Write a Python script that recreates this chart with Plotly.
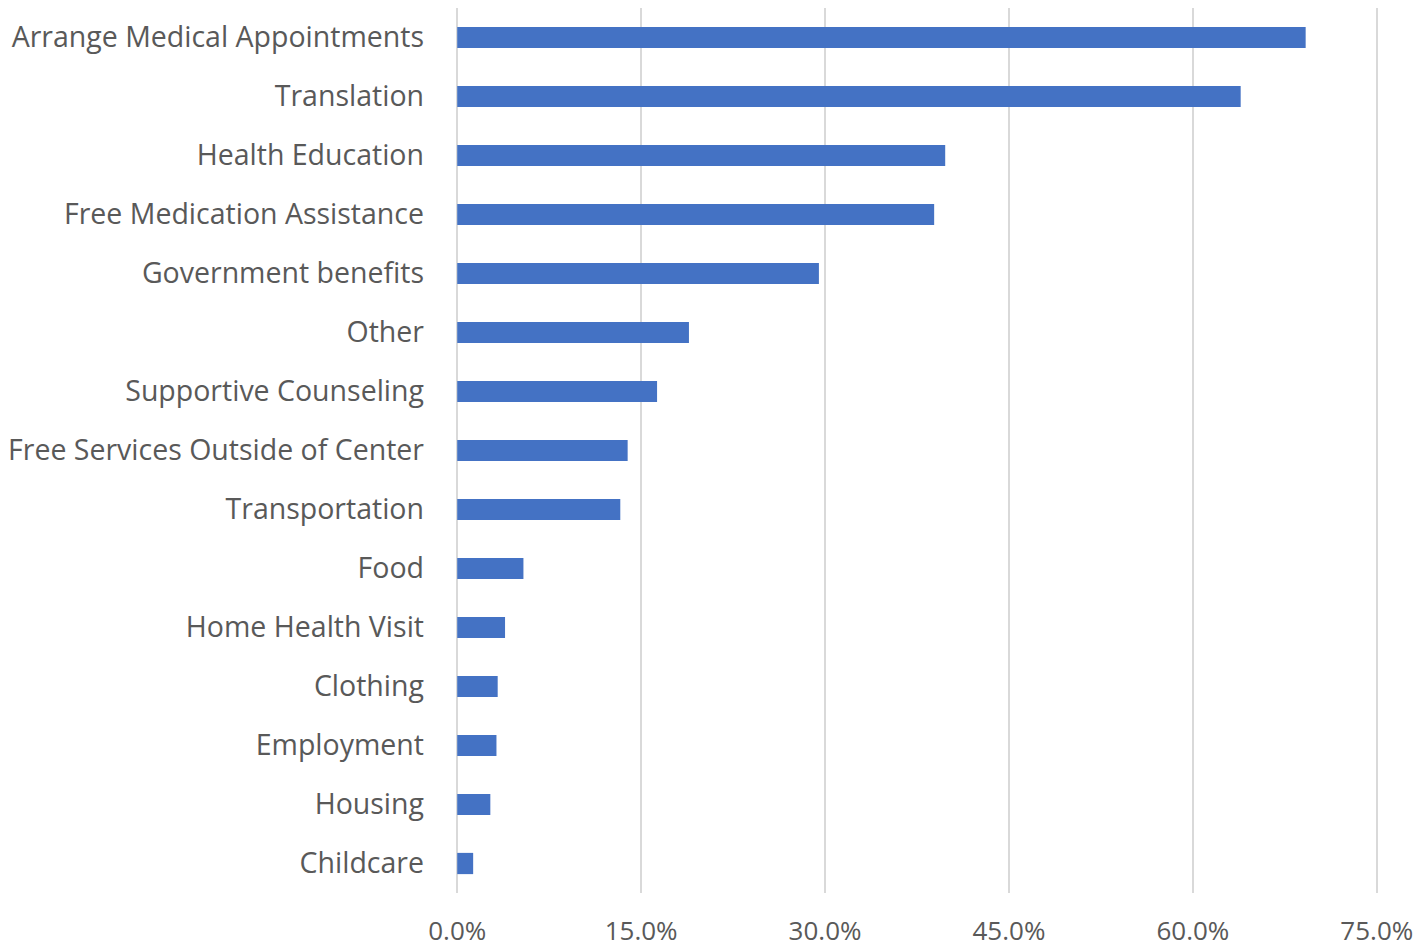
import plotly.graph_objects as go

categories = [
    "Arrange Medical Appointments",
    "Translation",
    "Health Education",
    "Free Medication Assistance",
    "Government benefits",
    "Other",
    "Supportive Counseling",
    "Free Services Outside of Center",
    "Transportation",
    "Food",
    "Home Health Visit",
    "Clothing",
    "Employment",
    "Housing",
    "Childcare",
]
values = [69.2, 63.9, 39.8, 38.9, 29.5, 18.9, 16.3, 13.9, 13.3, 5.4, 3.9, 3.3, 3.2, 2.7, 1.3]
x_ticks = [0, 15, 30, 45, 60, 75]

FONT = "Open Sans"
GREY = "#595959"

# The page body has an 8px margin, so the figure is sized to fit inside it.
fig = go.Figure(
    go.Bar(
        y=categories,
        x=values,
        orientation="h",
        marker=dict(color="#4472C4", line=dict(width=0)),
    )
)

fig.update_layout(
    width=1413,
    height=939,
    paper_bgcolor="white",
    plot_bgcolor="white",
    margin=dict(l=448, r=43, t=0, b=54, pad=0),
    bargap=0.64,
    showlegend=False,
    font=dict(family=FONT, color=GREY, size=28.5),
)

fig.update_yaxes(
    autorange="reversed",
    automargin=False,
    showgrid=False,
    showline=False,
    zeroline=False,
    ticks="",
    ticklabelstandoff=31,
    tickfont=dict(family=FONT, size=28.5, color=GREY),
)
fig.update_xaxes(
    range=[-0.1, 75.1],
    automargin=False,
    tickvals=x_ticks,
    ticktext=[f"{v:.1f}%" for v in x_ticks],
    showgrid=True,
    gridcolor="#d9d9d9",
    gridwidth=2,
    zeroline=False,
    showline=False,
    ticks="",
    ticklabelstandoff=20,
    tickfont=dict(family=FONT, size=26, color=GREY),
)

fig.write_html("out.html")
